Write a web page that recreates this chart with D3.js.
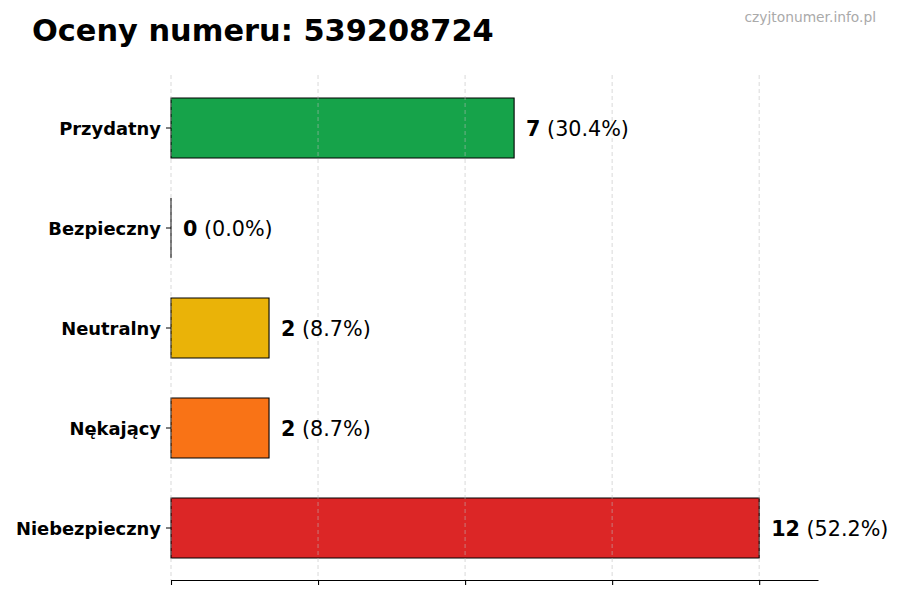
<!DOCTYPE html>
<html><head><meta charset="utf-8">
<script src="https://cdn.jsdelivr.net/npm/d3@7"></script>
<style>body{margin:0;background:#fff}svg{display:block}</style>
</head><body>
<svg id="c" width="900" height="600"></svg>
<script>
const categories = ["Przydatny", "Bezpieczny", "Neutralny", "Nękający", "Niebezpieczny"];
const values = [7, 0, 2, 2, 12];
const percents = ["30.4%", "0.0%", "8.7%", "8.7%", "52.2%"];
const colors = ["#16a34a", "#3b82f6", "#eab308", "#f97316", "#dc2626"];
const xTicks = [0, 3, 6, 9, 12];
const titleText = "Oceny numeru: 539208724";
const watermark = "czyjtonumer.info.pl";

(function () {
const svg = d3.select("#c");
const font = "DejaVu Sans, sans-serif";
const pLeft = 171, pRight = 818, pTop = 75, pBottom = 580;

const x = d3.scaleLinear().domain([0, d3.max(values) * 1.1]).range([pLeft, pRight]);
const y = d3.scaleBand().domain(categories).range([78, 578]).paddingInner(0.4).paddingOuter(0.2);

// bars (paths so zero-width bars still show their outline)
svg.append("g").selectAll("path").data(categories).join("path")
  .attr("d", (d, i) => {
    const p = d3.path();
    p.rect(x(0), y(d), x(values[i]) - x(0), y.bandwidth());
    return p.toString();
  })
  .attr("fill", (d, i) => colors[i])
  .attr("stroke", "#000")
  .attr("stroke-width", 1.1);

// grid (on top)
svg.append("g").selectAll("line").data(xTicks).join("line")
  .attr("x1", d => x(d)).attr("x2", d => x(d))
  .attr("y1", pTop).attr("y2", pBottom)
  .attr("stroke", "#bbb").attr("stroke-opacity", 0.7)
  .attr("stroke-dasharray", "4,3").attr("stroke-width", 0.8);

// bottom axis
const xa = svg.append("g").attr("transform", `translate(0,${pBottom})`)
  .call(d3.axisBottom(x).tickValues(xTicks).tickFormat("").tickSize(5).tickSizeOuter(0));
xa.select(".domain").attr("stroke", "#000").attr("stroke-width", 1.1);
xa.selectAll(".tick line").attr("stroke", "#000").attr("stroke-width", 1.1);

// left axis: ticks + labels, no spine
const ya = svg.append("g").attr("transform", `translate(${pLeft},0)`)
  .call(d3.axisLeft(y).tickSize(5).tickPadding(5));
ya.select(".domain").remove();
ya.selectAll(".tick line").attr("stroke", "#000").attr("stroke-width", 1);
ya.selectAll(".tick text").attr("font-family", font).attr("font-weight", "bold")
  .attr("font-size", "17.9px").attr("fill", "#000").attr("dy", "0.4em");

// value labels
const vl = svg.append("g").selectAll("text").data(categories).join("text")
  .attr("x", (d, i) => x(values[i]) + 12)
  .attr("y", d => y(d) + y.bandwidth() / 2)
  .attr("dy", "0.38em")
  .attr("font-family", font).attr("font-size", "20.7px").attr("fill", "#000");
vl.append("tspan").attr("font-weight", "bold").text((d, i) => values[i]);
vl.append("tspan").text((d, i) => " (" + percents[i] + ")");

// title
svg.append("text").attr("x", 32).attr("y", 41)
  .attr("font-family", font).attr("font-weight", "bold").attr("font-size", "30.4px")
  .attr("fill", "#000").text(titleText);

// watermark
svg.append("text").attr("x", 876).attr("y", 22).attr("text-anchor", "end")
  .attr("font-family", font).attr("font-size", "13.8px").attr("fill", "#aaa")
  .text(watermark);
})();
</script>
</body></html>
